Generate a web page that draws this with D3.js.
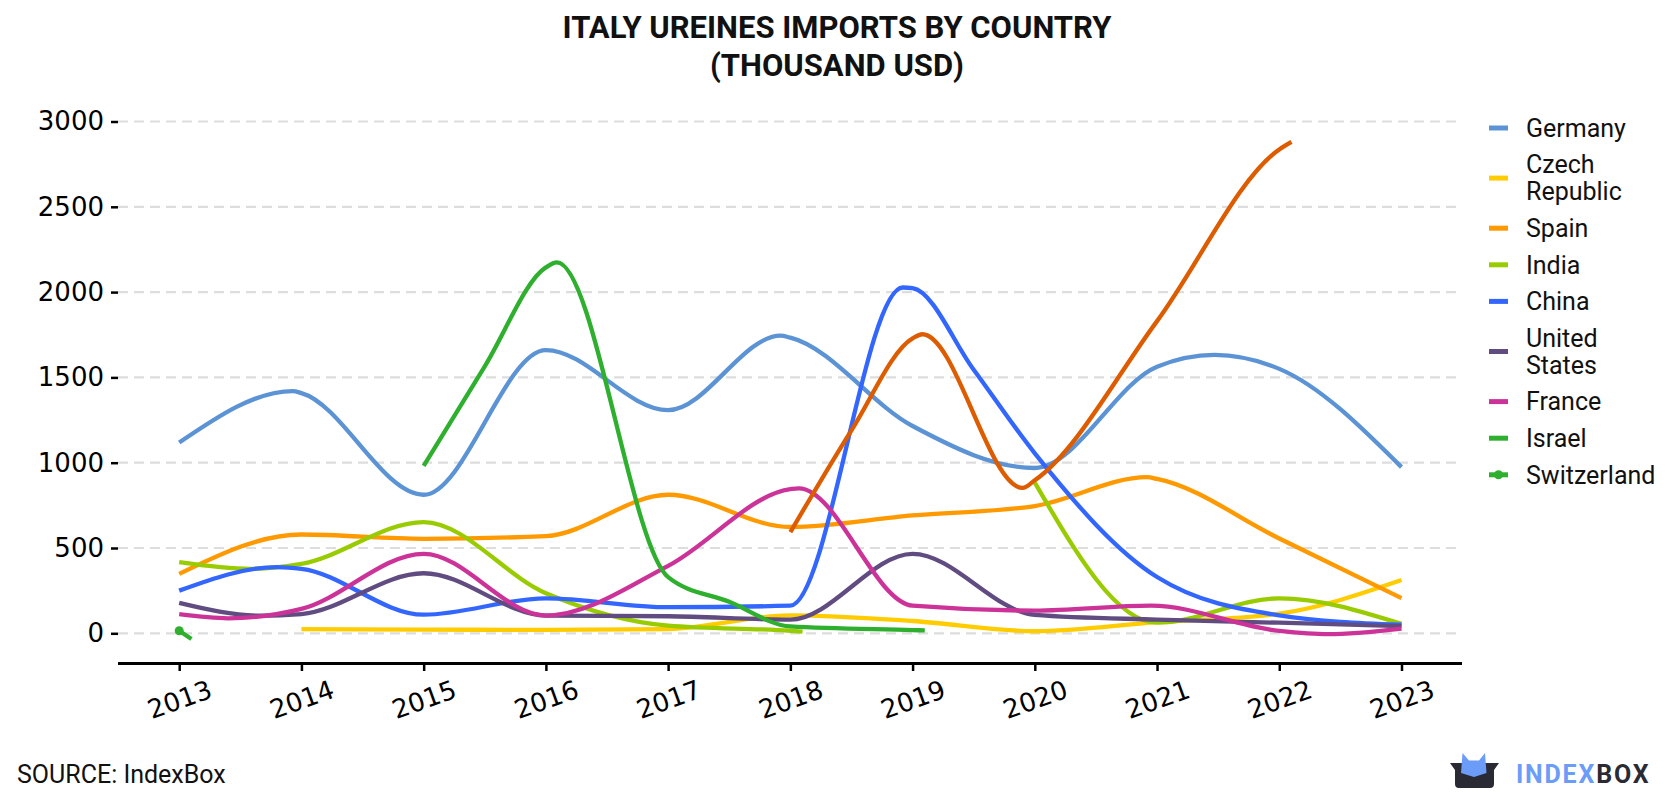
<!DOCTYPE html>
<html>
<head>
<meta charset="utf-8">
<script src="https://cdn.jsdelivr.net/npm/d3@7"></script>
<style>
  html, body { margin: 0; padding: 0; background: #ffffff; }
  svg { display: block; }
</style>
</head>
<body>
<svg id="chart" width="1680" height="800"></svg>
<script>
// ---------------- DATA ----------------
const years = [2013, 2014, 2015, 2016, 2017, 2018, 2019, 2020, 2021, 2022, 2023];
const yTicks = [0, 500, 1000, 1500, 2000, 2500, 3000];

// [year, value] pairs (thousand USD); null = no data
const germany = [[2013,1118],[2013.93,1420],[2014,1408],[2015,812],[2016,1660],[2017,1308],[2017.92,1745],[2018,1733],[2019,1215],[2020,969],[2021,1563],[2021.47,1632],[2022,1550],[2023,974]];
const czechRepublic = [[2014,25],[2015,22],[2016,20],[2017,25],[2018,105],[2019,72],[2020,12],[2021,65],[2022,115],[2023,312]];
const spain = [[2013,348],[2014,579],[2015,554],[2016,570],[2017,812],[2018,623],[2019,691],[2020,746],[2020.92,915],[2021,905],[2022,556],[2023,206]];
const india = [[2013,417],[2013.58,378],[2014,407],[2015,652],[2016,235],[2017,45],[2018,15],[2018.1,10],[2019,null],[2020,883],[2021,62],[2022,205],[2023,55]];
const china = [[2013,250],[2013.8,388],[2014,378],[2015,109],[2016,205],[2017,153],[2018,162],[2018.92,2027],[2019,2023],[2019.5,1545],[2020,1055],[2021,330],[2022,105],[2023,50]];
const unitedStates = [[2013,178],[2013.66,103],[2014,113],[2015,352],[2016,104],[2017,100],[2018,80],[2019,466],[2020,108],[2021,80],[2022,62],[2023,42]];
const france = [[2013,112],[2013.4,88],[2014,143],[2015,466],[2016,104],[2017,395],[2018,845],[2018.07,850],[2019,162],[2020,133],[2020.95,162],[2022,14],[2022.4,-5],[2023,28]];
const israel = [[2015,981],[2015.5,1565],[2016,2145],[2016.09,2174],[2017,329],[2017.5,185],[2018,40],[2019,19],[2019.1,17]];
const switzerland = [[2013,15],[2013.1,-33]];
const unlabeled = [[2018,593],[2018.5,1190],[2019,1729],[2019.08,1753],[2019.9,852],[2020,897],[2021,1830],[2022,2836],[2022.1,2880]];

const seriesNames = ["Germany", "Czech Republic", "Spain", "India", "China", "United States", "France", "Israel", "Switzerland"];
const legendLabels = [["Germany"], ["Czech", "Republic"], ["Spain"], ["India"], ["China"], ["United", "States"], ["France"], ["Israel"], ["Switzerland"]];
const seriesColors = ["#5b93d5", "#ffcc00", "#ff9900", "#99cc00", "#3366ff", "#604c80", "#cc3399", "#2eaf2e", "#2eaf2e"];
const seriesData = [germany, czechRepublic, spain, india, china, unitedStates, france, israel, switzerland];
const unlabeledColor = "#dd5c00";

const titleLines = ["ITALY UREINES IMPORTS BY COUNTRY", "(THOUSAND USD)"];
const sourceText = "SOURCE: IndexBox";

// ---------------- LAYOUT ----------------
const svg = d3.select("#chart");
const plotLeft = 118, plotRight = 1462;
const x = d3.scaleLinear().domain([2013, 2023]).range([179.2, 1401.5]);
const y = d3.scaleLinear().domain([0, 3000]).range([633.3, 121.5]);
const axisY = 663.5;

// Title
svg.append("g").selectAll("text").data(titleLines).join("text")
  .attr("x", 837).attr("y", (d, i) => i === 0 ? 38 : 76)
  .attr("text-anchor", "middle")
  .attr("font-family", "Roboto, sans-serif").attr("font-weight", 700)
  .attr("font-size", 31).attr("fill", "#111")
  .text(d => d);

// Grid lines
const grid = svg.append("g");
grid.selectAll("line").data(yTicks).join("line")
  .attr("x1", plotLeft).attr("x2", plotRight)
  .attr("y1", d => y(d)).attr("y2", d => y(d))
  .attr("stroke", "#dddddd").attr("stroke-width", 2.2)
  .attr("stroke-dasharray", "10,6");

// Y axis (ticks + labels, no domain line)
const yAxis = d3.axisLeft(y).tickValues(yTicks).tickSize(7).tickPadding(7).tickFormat(d3.format("d"));
const gy = svg.append("g").attr("transform", `translate(${plotLeft},0)`).call(yAxis);
gy.select(".domain").remove();
gy.selectAll(".tick line").attr("stroke", "#000").attr("stroke-width", 2.5);
gy.selectAll(".tick text").attr("font-family", "'DejaVu Sans', sans-serif").attr("font-size", 26).attr("fill", "#000");

// X axis
const xAxis = d3.axisBottom(x).tickValues(years).tickSize(7.5).tickFormat(d3.format("d"));
const gx = svg.append("g").attr("transform", `translate(0,${axisY})`).call(xAxis);
gx.select(".domain").remove();
gx.append("line").attr("x1", plotLeft).attr("x2", plotRight).attr("y1", 0).attr("y2", 0)
  .attr("stroke", "#000").attr("stroke-width", 3);
gx.selectAll(".tick line").attr("stroke", "#000").attr("stroke-width", 2.5);
gx.selectAll(".tick text")
  .attr("font-family", "'DejaVu Sans', sans-serif").attr("font-size", 26).attr("fill", "#000")
  .attr("y", 0).attr("dy", "0.35em").attr("text-anchor", "middle")
  .attr("transform", "translate(0,36) rotate(-20)");

// Lines
const line = d3.line()
  .defined(d => d[1] !== null)
  .x(d => x(d[0])).y(d => y(d[1]))
  .curve(d3.curveMonotoneX);

const linesG = svg.append("g");
seriesData.forEach((data, i) => {
  linesG.append("path").datum(data)
    .attr("d", line)
    .attr("fill", "none")
    .attr("stroke", seriesColors[i])
    .attr("stroke-width", 4.3)
    .attr("stroke-linejoin", "round");
});
// Switzerland marker
linesG.append("circle")
  .attr("cx", x(switzerland[0][0])).attr("cy", y(switzerland[0][1]))
  .attr("r", 4.5).attr("fill", seriesColors[8]);
// unlabeled dark orange series
linesG.append("path").datum(unlabeled)
  .attr("d", line).attr("fill", "none")
  .attr("stroke", unlabeledColor).attr("stroke-width", 4.3).attr("stroke-linejoin", "round");

// Legend
const legend = svg.append("g");
let ly = 128;
legendLabels.forEach((lines, i) => {
  const g = legend.append("g");
  const swY = ly + (lines.length - 1) * 27 / 2;
  g.append("line").attr("x1", 1489).attr("x2", 1508).attr("y1", swY).attr("y2", swY)
    .attr("stroke", seriesColors[i]).attr("stroke-width", 5);
  if (seriesNames[i] === "Switzerland") {
    g.append("circle").attr("cx", 1498.5).attr("cy", swY).attr("r", 4.5).attr("fill", seriesColors[i]);
  }
  lines.forEach((t, j) => {
    g.append("text").attr("x", 1526).attr("y", ly + j * 27).attr("dy", "0.35em")
      .attr("font-family", "Roboto, sans-serif").attr("font-size", 25).attr("fill", "#111")
      .text(t);
  });
  ly += (lines.length - 1) * 27 + 36.6;
});

// Source
svg.append("text").attr("x", 17).attr("y", 783)
  .attr("font-family", "Roboto, sans-serif").attr("font-size", 25).attr("fill", "#111")
  .text(sourceText);

// Logo
const logo = svg.append("g");
logo.append("path")
  .attr("d", "M1450,763 L1499,763 L1494,770 L1494,784 Q1494,788 1490,788 L1459,788 Q1455,788 1455,784 L1455,770 Z")
  .attr("fill", "#2a2a35");
logo.append("path")
  .attr("d", "M1461,773 L1462.5,753 L1469,760.5 L1479,760.5 L1485,753 L1486.5,773 L1474,777 Z")
  .attr("fill", "#6b9cf7");
const lt = logo.append("text").attr("x", 1516).attr("y", 782.7)
  .attr("font-family", "Roboto, sans-serif").attr("font-weight", 700)
  .attr("font-size", 25).attr("letter-spacing", 1.8);
lt.append("tspan").attr("fill", "#6b9cf7").text("INDEX");
lt.append("tspan").attr("fill", "#2a2a35").text("BOX");
</script>
</body>
</html>
